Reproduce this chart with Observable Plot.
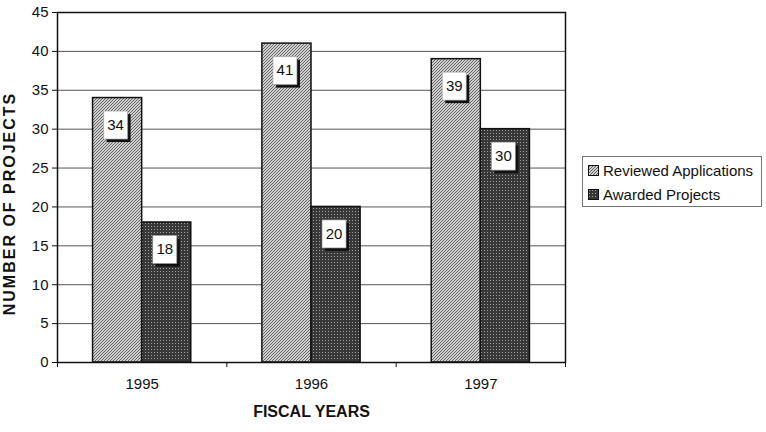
<!DOCTYPE html>
<html>
<head>
<meta charset="utf-8">
<script src="https://cdn.jsdelivr.net/npm/d3@7"></script>
<script src="https://cdn.jsdelivr.net/npm/@observablehq/plot@0.6"></script>
<style>
  html, body { margin: 0; padding: 0; background: #fff; }
  #wrap { position: relative; width: 766px; height: 432px; font-family: "Liberation Sans", Arial, sans-serif; }
  #legend { position: absolute; left: 582px; top: 156px; width: 180px; height: 51px; border: 1px solid #777; box-sizing: border-box; background: #fff; font-size: 15px; color: #111; }
  .item { position: absolute; left: 5px; display: flex; align-items: center; white-space: nowrap; }
  .item svg { margin-right: 4px; }
  .ylab text { letter-spacing: 2px; }
</style>
</head>
<body>
<svg width="0" height="0" style="position:absolute">
  <defs>
    <pattern id="patRev" patternUnits="userSpaceOnUse" width="3" height="3">
      <rect width="3" height="3" fill="#cfcfcf"></rect>
      <path d="M0,3 L3,0 M-1,1 L1,-1 M2,4 L4,2" stroke="#5a5a5a" stroke-width="0.9"></path>
    </pattern>
    <pattern id="patAw" patternUnits="userSpaceOnUse" width="3" height="3">
      <rect width="3" height="3" fill="#383838"></rect>
      <rect x="1" y="1" width="1" height="1" fill="#a0a0a0"></rect>
    </pattern>
  </defs>
</svg>
<div id="wrap"></div>
<script>
const years = ["1995", "1996", "1997"];
const reviewed = [34, 41, 39];
const awarded = [18, 20, 30];
const seriesNames = ["Reviewed Applications", "Awarded Projects"];
const yTicks = [0, 5, 10, 15, 20, 25, 30, 35, 40, 45];

const barW = 0.29; // bar width as a fraction of a category
const rows = years.flatMap((year, i) => [
  {year, i, k: 0, series: seriesNames[0], value: reviewed[i]},
  {year, i, k: 1, series: seriesNames[1], value: awarded[i]}
]);
rows.forEach(d => { d.x1 = d.i + 0.5 - barW + d.k * barW; d.x2 = d.x1 + barW; d.xc = (d.x1 + d.x2) / 2; });

const boxSym = {draw(ctx) { ctx.moveTo(-12, -14); ctx.lineTo(12, -14); ctx.lineTo(12, 14); ctx.lineTo(-12, 14); ctx.closePath(); }};

const chart = Plot.plot({
  width: 766,
  height: 432,
  marginLeft: 57,
  marginRight: 201,
  marginTop: 12,
  marginBottom: 70,
  style: {fontFamily: "'Liberation Sans', Arial, sans-serif", fontSize: "15px", color: "#111", background: "#fff"},
  x: {domain: [0, 3], axis: null},
  y: {domain: [0, 45], axis: null},
  marks: [
    Plot.ruleY(yTicks.slice(1, -1), {stroke: "#555", strokeWidth: 1}),
    Plot.rectY(rows.filter(d => d.k === 0), {x1: "x1", x2: "x2", y1: 0, y2: "value", fill: "url(#patRev)", stroke: "#111", strokeWidth: 1.5}),
    Plot.rectY(rows.filter(d => d.k === 1), {x1: "x1", x2: "x2", y1: 0, y2: "value", fill: "url(#patAw)", stroke: "#111", strokeWidth: 1.5}),
    Plot.frame({stroke: "#111", strokeWidth: 1.5}),
    Plot.axisY({ticks: yTicks, tickSize: 5, tickPadding: 4, tickFormat: d => String(d), label: null, fontSize: 15, stroke: "#111"}),
    Plot.axisX({ticks: [0, 1, 2, 3], tickSize: 5, tickFormat: () => "", label: null, stroke: "#111"}),
    Plot.axisX({ticks: [0.5, 1.5, 2.5], tickSize: 0, tickPadding: 16, tickFormat: d => years[Math.floor(d)], label: null, fontSize: 15}),
    Plot.dot(rows, {x: "xc", y: "value", symbol: boxSym, fill: "#111", stroke: "none", dx: 1, dy: 30}),
    Plot.dot(rows, {x: "xc", y: "value", symbol: boxSym, fill: "#fff", stroke: "#999", strokeWidth: 0.6, dx: -2, dy: 27}),
    Plot.text(rows, {x: "xc", y: "value", text: d => String(d.value), dx: -2, dy: 27, fontSize: 15, fill: "#111"}),
    Plot.text(["NUMBER OF PROJECTS"], {frameAnchor: "left", textAnchor: "middle", text: d => d, rotate: -90, dx: -48, dy: 16, fontWeight: "bold", fontSize: 16, fill: "#111", className: "ylab"}),
    Plot.text(["FISCAL YEARS"], {frameAnchor: "bottom", text: d => d, dy: 54, fontWeight: "bold", fontSize: 16, fill: "#111"})
  ]
});

const wrap = document.getElementById("wrap");
wrap.appendChild(chart);

const legend = document.createElement("div");
legend.id = "legend";
const pats = ["url(#patRev)", "url(#patAw)"];
seriesNames.forEach((name, j) => {
  const item = document.createElement("div");
  item.className = "item";
  item.style.top = (5 + j * 24) + "px";
  item.innerHTML = `<svg width="11" height="11"><rect x="0.5" y="0.5" width="10" height="10" fill="${pats[j]}" stroke="#111"></rect></svg><span>${name}</span>`;
  legend.appendChild(item);
});
wrap.appendChild(legend);
</script>
</body>
</html>
